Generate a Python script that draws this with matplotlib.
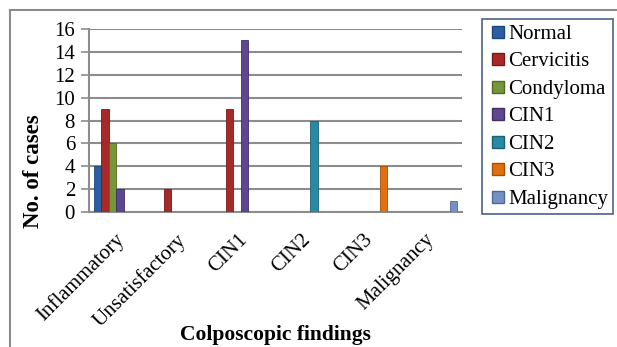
import numpy as np
import matplotlib.pyplot as plt
import matplotlib.transforms as mtransforms
from matplotlib.lines import Line2D

plt.rcParams['font.family'] = ['Liberation Serif', 'DejaVu Serif']

# Data
categories = ['Inflammatory', 'Unsatisfactory', 'CIN1', 'CIN2', 'CIN3', 'Malignancy']
series_names = ['Normal', 'Cervicitis', 'Condyloma', 'CIN1', 'CIN2', 'CIN3', 'Malignancy']
normal = [4, 0, 0, 0, 0, 0]
cervicitis = [9, 2, 9, 0, 0, 0]
condyloma = [6, 0, 0, 0, 0, 0]
cin1 = [2, 0, 15, 0, 0, 0]
cin2 = [0, 0, 0, 8, 0, 0]
cin3 = [0, 0, 0, 0, 4, 0]
malignancy = [0, 0, 0, 0, 0, 1]
yticks = [0, 2, 4, 6, 8, 10, 12, 14, 16]

colors = ['#2a5fa6', '#a82a28', '#76963a', '#5e4690', '#2a8aa3', '#e0700f', '#7591c4']
edges = ['#1d4677', '#741b1a', '#536a27', '#402f64', '#1c6072', '#a34f08', '#516a94']

fig = plt.figure(figsize=(6.17, 3.47), dpi=100)
ax = fig.add_axes([0.1442, 0.389, 0.6045, 0.5274])

x = np.arange(len(categories))
width = 0.12
all_series = [normal, cervicitis, condyloma, cin1, cin2, cin3, malignancy]
handles = []
for i, (vals, name) in enumerate(zip(all_series, series_names)):
    ax.bar(x + (i - 3) * width, vals, width, color=colors[i],
           edgecolor=edges[i], linewidth=0.6, zorder=3)
    handles.append(Line2D([], [], marker='s', linestyle='none', markersize=8.5,
                          markerfacecolor=colors[i], markeredgecolor=edges[i],
                          label=name))

ax.set_xlim(-0.5, len(categories) - 0.5)
ax.set_ylim(0, 16)
ax.set_yticks(yticks)
ax.tick_params(axis='y', labelsize=15, length=6, width=1.2, color='#8c8c8c', pad=4)
ax.set_xticks(x)
ax.set_xticklabels(categories, rotation=45, ha='right', va='top',
                   rotation_mode='anchor', fontsize=15)
ax.tick_params(axis='x', length=0, pad=13)
shift = mtransforms.ScaledTranslation(-6 / 100, 0, fig.dpi_scale_trans)
for lbl in ax.get_xticklabels():
    lbl.set_transform(lbl.get_transform() + shift)
ax.yaxis.grid(True, color='#8c8c8c', linewidth=1.5, zorder=0)
ax.set_axisbelow(True)
for s in ['top', 'right']:
    ax.spines[s].set_visible(False)
for s in ['left', 'bottom']:
    ax.spines[s].set_color('#8c8c8c')
    ax.spines[s].set_linewidth(1.5)

fig.text(0.446, 0.035, 'Colposcopic findings', ha='center', va='center',
         fontsize=15.5, fontweight='bold')
fig.text(0.0535, 0.506, 'No. of cases', ha='center', va='center', rotation=90,
         fontsize=16.5, fontweight='bold')

leg = fig.legend(handles=handles, loc='upper left', bbox_to_anchor=(482 / 617, 1 - 19 / 347),
                 fontsize=15, frameon=True, fancybox=False, handlelength=1.0,
                 handletextpad=0.0, labelspacing=0.38, borderpad=0.25, borderaxespad=0)
leg.get_frame().set_edgecolor('#1f3a6e')
leg.get_frame().set_linewidth(1.2)

# outer chart border (cut at right and bottom)
fig.add_artist(Line2D([10 / 617, 1.1], [1 - 10 / 347] * 2, color='#8c8c8c', linewidth=1.5))
fig.add_artist(Line2D([10 / 617] * 2, [-0.1, 1 - 10 / 347], color='#8c8c8c', linewidth=1.5))

fig.savefig('out.png', dpi=100)
